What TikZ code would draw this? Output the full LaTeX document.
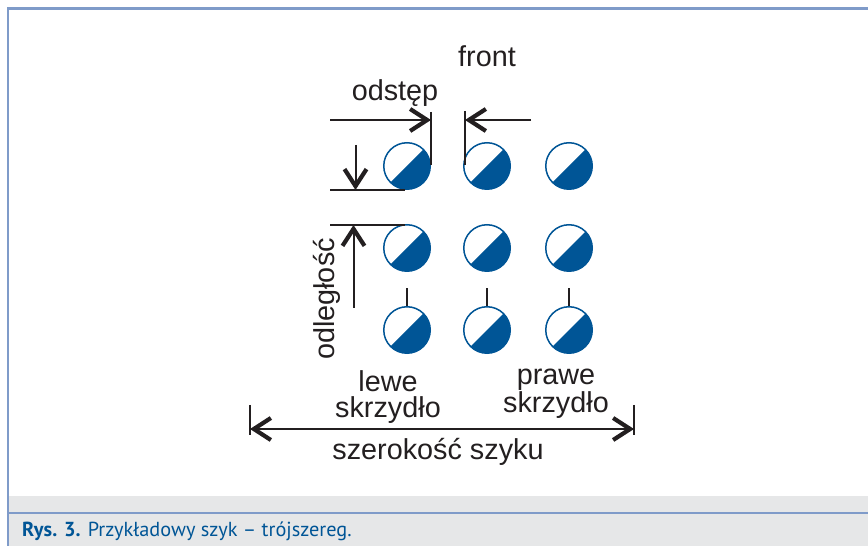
\documentclass[tikz,border=0pt]{standalone}
\usepackage{fontspec}
\setmainfont{Liberation Sans}
\newfontfamily\captionfont{PT Sans}
\usepackage{xcolor}
\usetikzlibrary{positioning,calc,arrows.meta}
\definecolor{wingblue}{HTML}{005596}
\definecolor{framecol}{HTML}{7F9BC9}
\definecolor{bandgray}{HTML}{E6E7E8}
\definecolor{inkdark}{HTML}{231F20}
\tikzset{
  soldier/.style={circle,draw=wingblue,line width=1.5pt,fill=white,inner sep=0pt,minimum size=46.5pt,
    path picture={\fill[wingblue] (path picture bounding box.center) +(-30,-30) -- +(30,30) -- +(30,-30) -- cycle;}},
  lbl/.style={text=inkdark,inner sep=0pt,align=center,font=\fontsize{28.8}{26}\selectfont},
  dimline/.style={draw=inkdark,line width=2pt},
  barline/.style={draw=inkdark,line width=2.4pt}
}
\begin{document}
\begin{tikzpicture}[x=1pt,y=1pt]
\useasboundingbox (0,0) rectangle (868,546);
% frame and caption band
\fill[bandgray] (8,0) rectangle (868,50);
\draw[framecol,line width=2.5pt] (8,0) -- (8,537.5) -- (868,537.5);
\draw[framecol,line width=2pt] (8,33) -- (868,33);
\node[anchor=base west,inner sep=0pt,text=wingblue,font=\fontsize{20.3}{22}\selectfont\captionfont] (caption) at (22,9) {\textbf{Rys. 3.} Przykładowy szyk – trójszereg.};

% soldiers
\foreach \x/\c in {407/1,487/2,569/3} {
  \foreach \y/\r in {380/1,298/2,216/3} {
    \node[soldier] (s\r\c) at (\x,\y) {};
  }
  \coordinate (tick\c) at (\x,258);
}

% texts
\begin{scope}[every node/.style={lbl}]
    \node (front) at (487,490) {front};
    \node (odstep) at (395,453) {odstęp};
    \node[rotate=90] (odleglosc) at (327,247) {odległość};
    \node (lewe) at (388,149) {lewe\\[0.5pt]skrzydło};
    \node (prawe) at (556,152) {prawe\\[0.5pt]skrzydło};
    \node (szerokosc) at (438,94) {szerokość szyku};
\end{scope}

% ends of the measuring lines
\coordinate (gapLfree) at (330,426);
\coordinate (gapL) at (431,426);
\coordinate (gapLtop) at (431,434);
\coordinate (gapLbot) at (431,381);
\coordinate (gapRfree) at (531,426);
\coordinate (gapR) at (465,426);
\coordinate (gapRtop) at (465,435);
\coordinate (gapRbot) at (465,381);
\coordinate (rowAfree) at (355.5,401);
\coordinate (rowA) at (355.5,356);
\coordinate (rowAl) at (330,356);
\coordinate (rowAr) at (405,356);
\coordinate (rowBfree) at (353.5,238);
\coordinate (rowB) at (353.5,321);
\coordinate (rowBl) at (330,321);
\coordinate (rowBr) at (405,321);
\coordinate (wingL) at (250,117);
\coordinate (wingR) at (634,117);
\coordinate (wingLtop) at (250,141);
\coordinate (wingLbot) at (250,111);
\coordinate (wingRtop) at (634,141);
\coordinate (wingRbot) at (634,111);

\begin{scope}[>={Straight Barb[length=17pt,width=22pt,line width=4.2pt,color=inkdark]},
              every edge/.style={dimline}]
    \path [->] (gapLfree) edge (gapL);
    \path [->] (gapRfree) edge (gapR);
    \path [->] (rowAfree) edge (rowA);
    \path [->] (rowBfree) edge (rowB);
    \path [<->] (wingL) edge (wingR);
\end{scope}

\draw[barline] (gapLtop) -- (gapLbot);
\draw[barline] (gapRtop) -- (gapRbot);
\draw[barline] (rowAl) -- (rowAr);
\draw[barline] (rowBl) -- (rowBr);
\draw[barline] (wingLtop) -- (wingLbot);
\draw[barline] (wingRtop) -- (wingRbot);
\foreach \c in {1,2,3} \draw[dimline] (s3\c.north) -- (tick\c);
\end{tikzpicture}
\end{document}
